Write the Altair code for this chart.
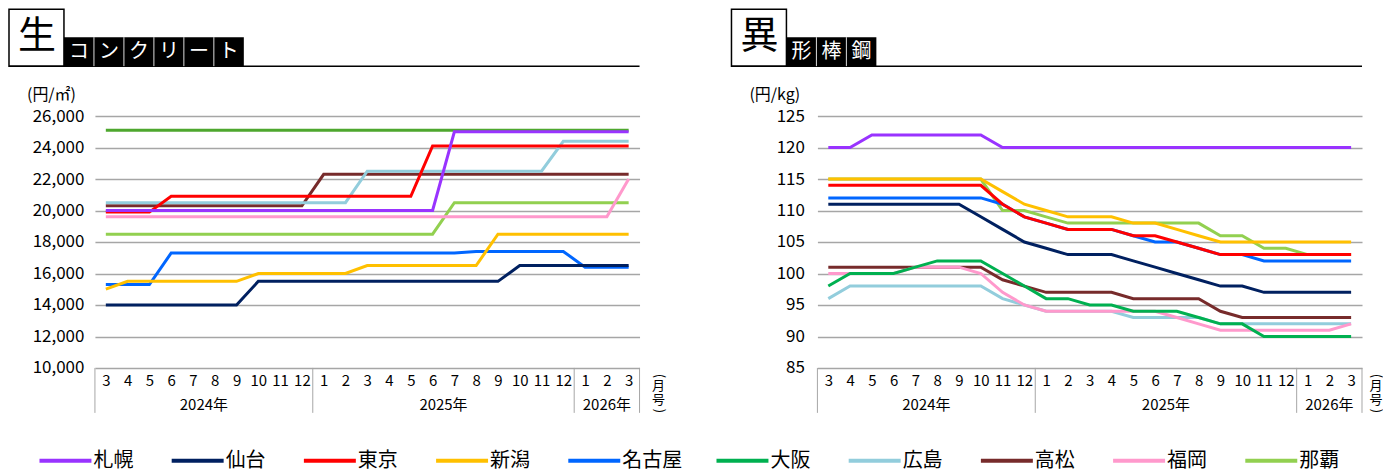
import altair as alt
import pandas as pd

FONT = "Noto Sans CJK JP"

months = ["3", "4", "5", "6", "7", "8", "9", "10", "11", "12",
          "1", "2", "3", "4", "5", "6", "7", "8", "9", "10", "11", "12",
          "1", "2", "3"]
year_labels = ["2024年", "2025年", "2026年"]
year_spans = [(0, 9), (10, 21), (22, 24)]

series_names = ["札幌", "仙台", "東京", "新潟", "名古屋", "大阪", "広島", "高松", "福岡", "那覇"]
series_colors = ["#9933FF", "#002060", "#FF0000", "#FFC000", "#0066FF",
                 "#00B050", "#92CDDC", "#772B2B", "#FF99CC", "#92D050"]
concrete_osaka_color = "#4EA72E"
draw_order = ["那覇", "高松", "広島", "福岡", "大阪", "名古屋", "新潟", "東京", "仙台", "札幌"]

# ---- 生コンクリート (円/㎡) ----
con_sapporo = [20000, 20000, 20000, 20000, 20000, 20000, 20000, 20000, 20000, 20000,
               20000, 20000, 20000, 20000, 20000, 20000, 25000, 25000, 25000, 25000,
               25000, 25000, 25000, 25000, 25000]
con_sendai = [14000, 14000, 14000, 14000, 14000, 14000, 14000, 15500, 15500, 15500,
              15500, 15500, 15500, 15500, 15500, 15500, 15500, 15500, 15500, 16500,
              16500, 16500, 16500, 16500, 16500]
con_tokyo = [19900, 19900, 19900, 20900, 20900, 20900, 20900, 20900, 20900, 20900,
             20900, 20900, 20900, 20900, 20900, 24100, 24100, 24100, 24100, 24100,
             24100, 24100, 24100, 24100, 24100]
con_niigata = [15000, 15500, 15500, 15500, 15500, 15500, 15500, 16000, 16000, 16000,
               16000, 16000, 16500, 16500, 16500, 16500, 16500, 16500, 18500, 18500,
               18500, 18500, 18500, 18500, 18500]
con_nagoya = [15300, 15300, 15300, 17300, 17300, 17300, 17300, 17300, 17300, 17300,
              17300, 17300, 17300, 17300, 17300, 17300, 17300, 17400, 17400, 17400,
              17400, 17400, 16400, 16400, 16400]
con_osaka = [25100, 25100, 25100, 25100, 25100, 25100, 25100, 25100, 25100, 25100,
             25100, 25100, 25100, 25100, 25100, 25100, 25100, 25100, 25100, 25100,
             25100, 25100, 25100, 25100, 25100]
con_hiroshima = [20500, 20500, 20500, 20500, 20500, 20500, 20500, 20500, 20500, 20500,
                 20500, 20500, 22500, 22500, 22500, 22500, 22500, 22500, 22500, 22500,
                 22500, 24400, 24400, 24400, 24400]
con_takamatsu = [20300, 20300, 20300, 20300, 20300, 20300, 20300, 20300, 20300, 20300,
                 22300, 22300, 22300, 22300, 22300, 22300, 22300, 22300, 22300, 22300,
                 22300, 22300, 22300, 22300, 22300]
con_fukuoka = [19600, 19600, 19600, 19600, 19600, 19600, 19600, 19600, 19600, 19600,
               19600, 19600, 19600, 19600, 19600, 19600, 19600, 19600, 19600, 19600,
               19600, 19600, 19600, 19600, 22000]
con_naha = [18500, 18500, 18500, 18500, 18500, 18500, 18500, 18500, 18500, 18500,
            18500, 18500, 18500, 18500, 18500, 18500, 20500, 20500, 20500, 20500,
            20500, 20500, 20500, 20500, 20500]

# ---- 異形棒鋼 (円/kg) ----
reb_sapporo = [120, 120, 122, 122, 122, 122, 122, 122, 120, 120, 120, 120, 120,
               120, 120, 120, 120, 120, 120, 120, 120, 120, 120, 120, 120]
reb_sendai = [111, 111, 111, 111, 111, 111, 111, 109, 107, 105, 104, 103, 103,
              103, 102, 101, 100, 99, 98, 98, 97, 97, 97, 97, 97]
reb_tokyo = [114, 114, 114, 114, 114, 114, 114, 114, 111, 109, 108, 107, 107,
             107, 106, 106, 105, 104, 103, 103, 103, 103, 103, 103, 103]
reb_niigata = [115, 115, 115, 115, 115, 115, 115, 115, 113, 111, 110, 109, 109,
               109, 108, 108, 107, 106, 105, 105, 105, 105, 105, 105, 105]
reb_nagoya = [112, 112, 112, 112, 112, 112, 112, 112, 111, 109, 108, 107, 107,
              107, 106, 105, 105, 104, 103, 103, 102, 102, 102, 102, 102]
reb_osaka = [98, 100, 100, 100, 101, 102, 102, 102, 100, 98, 96, 96, 95,
             95, 94, 94, 94, 93, 92, 92, 90, 90, 90, 90, 90]
reb_hiroshima = [96, 98, 98, 98, 98, 98, 98, 98, 96, 95, 94, 94, 94,
                 94, 93, 93, 93, 93, 92, 92, 92, 92, 92, 92, 92]
reb_takamatsu = [101, 101, 101, 101, 101, 101, 101, 101, 99, 98, 97, 97, 97,
                 97, 96, 96, 96, 96, 94, 93, 93, 93, 93, 93, 93]
reb_fukuoka = [100, 100, 100, 100, 101, 101, 101, 100, 97, 95, 94, 94, 94,
               94, 94, 94, 93, 92, 91, 91, 91, 91, 91, 91, 92]
reb_naha = [115, 115, 115, 115, 115, 115, 115, 115, 110, 110, 109, 108, 108,
            108, 108, 108, 108, 108, 106, 106, 104, 104, 103, 103, 103]

concrete = dict(zip(series_names, [con_sapporo, con_sendai, con_tokyo, con_niigata, con_nagoya,
                                   con_osaka, con_hiroshima, con_takamatsu, con_fukuoka, con_naha]))
rebar = dict(zip(series_names, [reb_sapporo, reb_sendai, reb_tokyo, reb_niigata, reb_nagoya,
                                reb_osaka, reb_hiroshima, reb_takamatsu, reb_fukuoka, reb_naha]))

H = 252
GRID = "#A6A6A6"
LEFT_EXT = 86


def panel(values, colors, ymin, ymax, ystep, yfmt, big, small, unit, width, ylab_pad, mark_dx):
    rows = []
    for name in series_names:
        for i, v in enumerate(values[name]):
            rows.append({"i": i, "series": name, "value": v})
    df = pd.DataFrame(rows)
    n = len(months)
    month_expr = "[" + ",".join("'%s'" % m for m in months) + "][datum.value]"
    xscale = alt.Scale(domain=[-0.5, n - 0.5], nice=False, zero=False)
    xaxis = alt.Axis(values=list(range(n)), labelExpr=month_expr, title=None, domain=False,
                     ticks=False, tickSize=0, grid=False, labelFontSize=15, labelPadding=13,
                     labelBaseline="middle", labelFont=FONT, labelColor="black", labelAngle=0,
                     labelOverlap=False, labelFlush=False)
    y = alt.Y("value:Q", scale=alt.Scale(domain=[ymin, ymax], nice=False, zero=False),
              axis=alt.Axis(values=list(range(ymin, ymax + 1, ystep)), format=yfmt, title=None,
                            domain=False, ticks=False, tickSize=0, grid=True, gridColor=GRID,
                            gridWidth=1.5, labelFontSize=17, labelPadding=ylab_pad,
                            labelFont=FONT, labelColor="black"))
    layers = []
    for name in draw_order:
        layers.append(
            alt.Chart(df).transform_filter(alt.datum.series == name)
            .mark_line(strokeWidth=3, color=colors[name])
            .encode(x=alt.X("i:Q", scale=xscale, axis=xaxis), y=y)
        )
    # axis box separators
    bounds = [s - 0.5 for s, e in year_spans] + [year_spans[-1][1] + 0.5]
    bdf = pd.DataFrame({"i": bounds})
    layers.append(
        alt.Chart(bdf).mark_rule(color=GRID, strokeWidth=1)
        .encode(x=alt.X("i:Q", scale=xscale, axis=xaxis), y=alt.value(H), y2=alt.value(H + 45))
    )
    ydf = pd.DataFrame({"i": [(s + e) / 2 for s, e in year_spans], "label": year_labels})
    layers.append(
        alt.Chart(ydf).mark_text(fontSize=15, font=FONT, baseline="middle", color="black")
        .encode(x=alt.X("i:Q", scale=xscale, axis=xaxis), y=alt.value(H + 37), text="label:N")
    )
    one = pd.DataFrame({"a": [0]})
    # unit label
    layers.append(
        alt.Chart(one).mark_text(fontSize=16, font=FONT, baseline="middle", align="left", color="black")
        .encode(x=alt.value(-68), y=alt.value(-21), text=alt.value(unit))
    )
    # month marker (月号), written vertically
    for txt, dy, ang in [("(", 8, 90), ("月", 18, 0), ("号", 32, 0), (")", 43, 90)]:
        layers.append(
            alt.Chart(one).mark_text(fontSize=13, font=FONT, baseline="middle", align="center",
                                     angle=ang, color="black")
            .encode(x=alt.value(width + mark_dx), y=alt.value(H + dy), text=alt.value(txt))
        )
    # title decoration
    layers.append(
        alt.Chart(one).mark_rect(fill="white", stroke="black", strokeWidth=1.5)
        .encode(x=alt.value(-LEFT_EXT), x2=alt.value(-31), y=alt.value(-107), y2=alt.value(-50))
    )
    layers.append(
        alt.Chart(one).mark_rule(color="black", strokeWidth=1.5)
        .encode(x=alt.value(-LEFT_EXT), x2=alt.value(width), y=alt.value(-50))
    )
    cell = 30
    layers.append(
        alt.Chart(one).mark_rect(fill="black")
        .encode(x=alt.value(-31), x2=alt.value(-31 + cell * len(small)), y=alt.value(-79), y2=alt.value(-50))
    )
    for k in range(1, len(small)):
        layers.append(
            alt.Chart(one).mark_rule(color="#DDDDDD", strokeWidth=1)
            .encode(x=alt.value(-31 + cell * k), y=alt.value(-79), y2=alt.value(-50))
        )
    for k, ch in enumerate(small):
        layers.append(
            alt.Chart(one).mark_text(fontSize=20, font=FONT, baseline="middle", align="center", color="white")
            .encode(x=alt.value(-31 + cell * k + cell / 2), y=alt.value(-64.5), text=alt.value(ch))
        )
    layers.append(
        alt.Chart(one).mark_text(fontSize=38, font=FONT, baseline="middle", align="center", color="black")
        .encode(x=alt.value(-58), y=alt.value(-79), text=alt.value(big))
    )
    return alt.layer(*layers).properties(width=width, height=H)


colors_left = dict(zip(series_names, series_colors))
colors_left["大阪"] = concrete_osaka_color
colors_right = dict(zip(series_names, series_colors))

left = panel(concrete, colors_left, 10000, 26000, 2000, ",d", "生",
             ["コ", "ン", "ク", "リ", "ー", "ト"], "(円/㎡)", 545, 11, 19)
right = panel(rebar, colors_right, 85, 125, 5, "d", "異",
              ["形", "棒", "鋼"], "(円/kg)", 545, 13, 14)

# legend: entries laid out one after another, each as wide as its symbol + label + gap
SYM = 52
CHAR_W = 16
GAP = 46.3
LEG_W = 1100
starts = []
pos = -55.5
for name in series_names:
    starts.append(pos)
    pos += SYM + 2 + CHAR_W * len(name) + GAP
ldf = pd.DataFrame({"name": series_names, "x0": starts})
ldf["x1"] = ldf["x0"] + SYM
ldf["xt"] = ldf["x0"] + SYM + 2
lscale = alt.Scale(domain=[0, LEG_W], nice=False, zero=False)
cscale = alt.Scale(domain=series_names, range=series_colors)
leg_rules = alt.Chart(ldf).mark_rule(strokeWidth=4).encode(
    x=alt.X("x0:Q", scale=lscale, axis=None),
    x2="x1:Q",
    y=alt.value(8),
    color=alt.Color("name:N", scale=cscale, legend=None),
)
leg_text = alt.Chart(ldf).mark_text(align="left", baseline="middle", fontSize=20, font=FONT,
                                    color="black").encode(
    x=alt.X("xt:Q", scale=lscale, axis=None),
    y=alt.value(8),
    text="name:N",
)
legend = alt.layer(leg_rules, leg_text).properties(width=LEG_W, height=16)

top = alt.hconcat(left, right, spacing=178, bounds="flush")
chart = alt.vconcat(top, legend, spacing=337, bounds="flush").properties(padding=0).configure_view(stroke=None)

chart.save("out.html", embed_options={"renderer": "svg", "actions": False})
